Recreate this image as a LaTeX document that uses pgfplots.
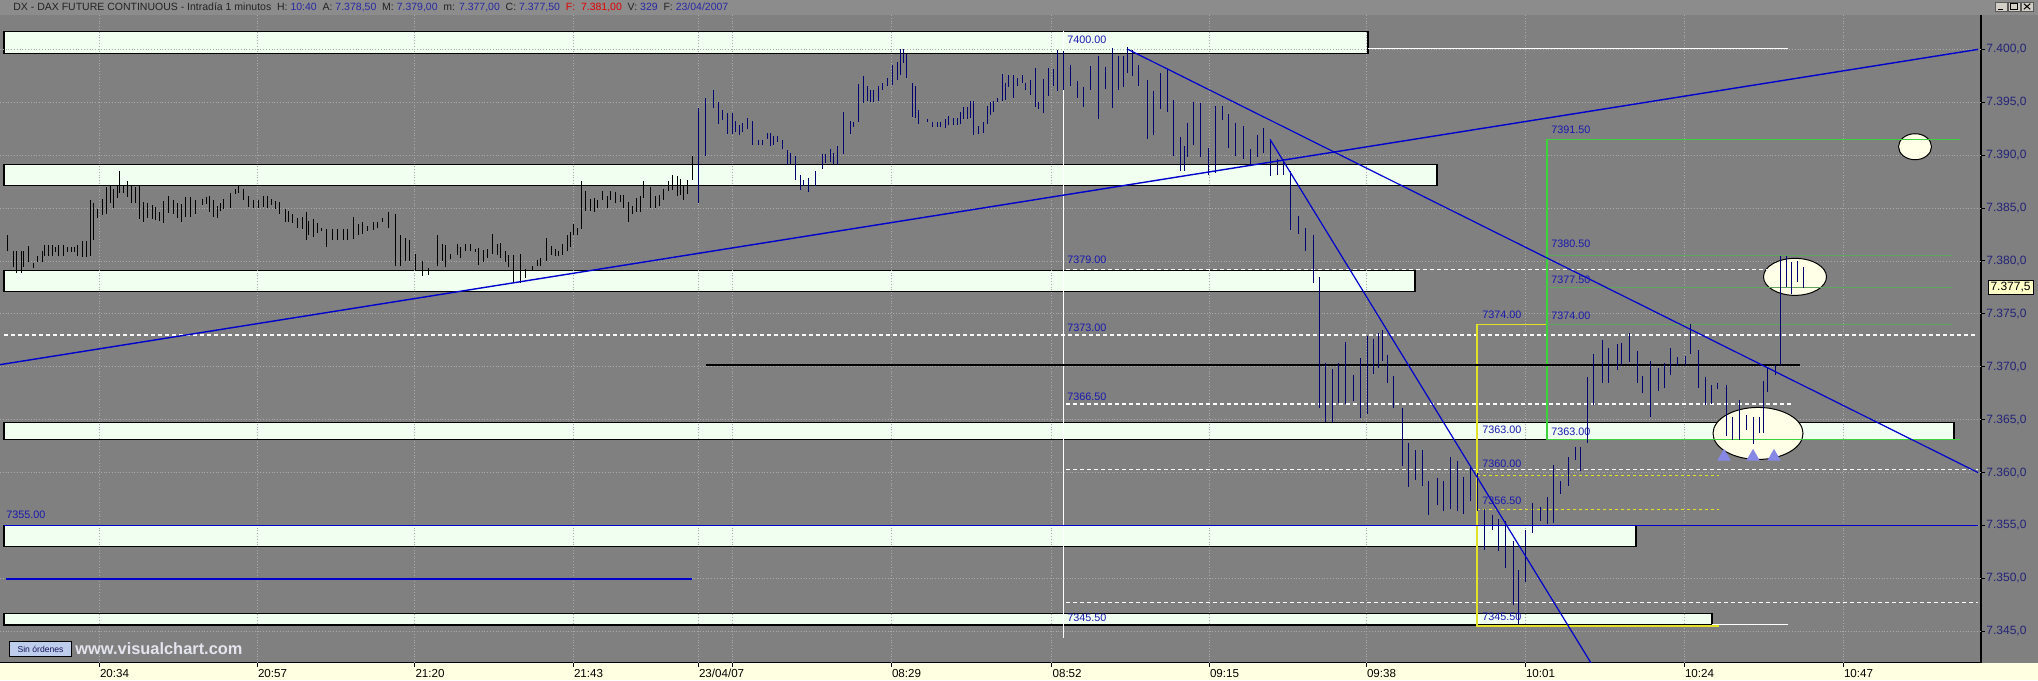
\documentclass[border=0pt]{standalone}
\usepackage{pgfplots}
\usepackage{pgfplotstable}
\pgfplotsset{compat=1.18}
\usepackage{fontspec}
\setmainfont{Liberation Sans}
\definecolor{bg}{RGB}{128,128,128}
\definecolor{titlebg}{RGB}{140,140,140}
\definecolor{boxfill}{RGB}{240,255,240}
\definecolor{navybar}{RGB}{0,0,110}
\definecolor{trend}{RGB}{0,0,205}
\definecolor{labblue}{RGB}{25,25,175}
\definecolor{ylab}{RGB}{35,35,120}
\definecolor{yel}{RGB}{225,225,40}
\definecolor{gbright}{RGB}{60,210,60}
\definecolor{gdim}{RGB}{95,165,95}
\definecolor{strip}{RGB}{255,255,225}
\definecolor{arrowc}{RGB}{135,135,230}
\definecolor{cream}{RGB}{255,255,232}
\definecolor{gridc}{RGB}{170,170,170}
\definecolor{ttxt}{RGB}{35,35,35}
\definecolor{tval}{RGB}{40,40,165}
\definecolor{tred}{RGB}{225,0,0}

\pgfplotstableread{
x h l
7 7382.5 7381.0
13 7381.0 7379.5
16 7381.0 7379.0
21 7381.0 7379.0
23 7381.0 7379.5
28 7381.5 7380.0
33 7380.0 7379.5
37 7380.5 7380.0
42 7381.0 7380.0
44 7381.5 7380.5
48 7381.5 7380.5
52 7381.5 7380.5
55 7381.5 7381.0
58 7381.5 7380.5
63 7381.5 7380.5
67 7381.5 7381.0
71 7381.5 7381.0
74 7381.5 7381.0
77 7381.5 7380.5
82 7382.0 7380.5
86 7382.0 7380.5
90 7385.8 7380.5
93 7385.5 7382.0
97 7385.0 7384.2
102 7386.0 7384.5
106 7387.0 7384.5
110 7387.2 7385.5
113 7386.9 7385.1
117 7387.3 7386.1
119 7388.6 7386.5
123 7387.2 7386.5
127 7387.6 7386.1
131 7387.3 7385.6
135 7387.0 7385.5
139 7387.2 7384.0
143 7385.6 7383.7
147 7385.6 7384.2
152 7385.3 7384.0
155 7385.1 7383.9
159 7384.7 7383.9
163 7385.8 7383.7
168 7386.1 7384.5
173 7385.8 7384.5
177 7385.6 7384.2
181 7385.4 7383.7
185 7386.1 7384.2
190 7386.1 7384.2
195 7385.8 7384.5
202 7385.9 7385.3
206 7386.1 7385.4
209 7386.2 7384.7
213 7385.8 7384.2
217 7385.3 7384.2
220 7385.6 7384.8
223 7385.9 7385.0
230 7386.5 7385.1
235 7387.0 7386.5
238 7387.2 7386.5
243 7386.9 7385.8
248 7386.1 7385.1
253 7385.8 7385.1
258 7385.8 7385.1
263 7386.1 7385.1
267 7386.2 7385.1
271 7385.9 7385.3
275 7385.8 7385.0
279 7385.6 7384.5
285 7385.0 7383.7
288 7384.7 7383.7
292 7384.5 7383.7
297 7384.2 7383.2
302 7384.2 7383.1
306 7384.7 7382.1
308 7383.9 7382.6
313 7384.0 7382.3
317 7383.7 7382.8
321 7383.2 7382.9
326 7383.1 7381.4
332 7383.1 7382.1
337 7383.1 7382.1
343 7383.2 7382.1
347 7383.1 7382.1
353 7384.2 7382.1
358 7383.6 7382.6
362 7383.7 7382.6
367 7383.4 7382.9
373 7383.7 7382.9
377 7383.7 7383.2
382 7384.2 7383.8
388 7384.7 7383.2
395 7384.5 7379.6
400 7382.5 7379.6
405 7382.3 7380.1
409 7382.1 7380.1
415 7380.7 7379.2
422 7380.1 7378.7
428 7379.3 7378.7
437 7382.6 7379.6
442 7381.7 7380.1
445 7381.7 7379.6
450 7380.7 7380.2
457 7381.7 7380.7
460 7381.5 7380.4
465 7381.7 7381.0
470 7381.7 7381.0
475 7381.2 7380.9
478 7381.2 7379.6
483 7381.2 7380.1
487 7381.2 7380.4
492 7382.6 7380.7
497 7381.7 7380.7
500 7381.7 7380.3
505 7381.0 7380.0
508 7380.7 7379.5
513 7380.6 7378.0
520 7380.7 7378.0
525 7379.3 7378.5
532 7379.6 7379.2
537 7380.1 7379.6
540 7380.3 7379.6
546 7382.3 7380.1
551 7381.5 7380.6
555 7381.2 7380.6
558 7381.0 7380.6
562 7381.7 7380.6
567 7382.6 7381.0
570 7382.8 7381.4
573 7383.6 7382.6
577 7383.2 7382.6
581 7387.7 7383.1
585 7386.7 7384.8
590 7385.9 7384.7
594 7386.1 7384.7
597 7385.8 7385.1
602 7386.7 7385.8
607 7386.2 7385.1
610 7386.6 7385.8
615 7386.7 7385.6
620 7386.2 7385.6
623 7386.2 7385.0
628 7385.6 7383.7
632 7385.3 7384.5
636 7386.1 7384.7
640 7386.2 7384.7
643 7387.7 7386.1
650 7387.0 7385.1
655 7386.2 7385.1
659 7386.4 7385.3
663 7387.0 7385.9
668 7387.7 7386.7
672 7388.1 7386.7
677 7388.1 7386.2
680 7387.7 7386.2
683 7387.2 7385.8
687 7387.7 7386.4
692 7390.0 7387.7
}\dayone

\pgfplotstableread{
x h l
698 7394.6 7385.6
705 7395.5 7390.0
713 7396.3 7394.6
718 7395.1 7393.0
722 7394.3 7393.3
727 7394.1 7392.1
732 7394.1 7392.1
735 7393.3 7392.2
739 7393.0 7392.1
742 7393.0 7392.2
747 7393.6 7392.5
752 7393.3 7391.1
758 7391.6 7391.1
762 7391.6 7391.1
767 7392.1 7391.6
770 7392.2 7391.0
773 7391.9 7391.1
777 7391.9 7391.3
782 7391.6 7390.8
787 7390.6 7389.2
790 7390.2 7389.2
795 7390.0 7387.7
800 7388.1 7386.7
803 7387.8 7387.2
808 7388.0 7386.7
815 7388.6 7387.2
822 7390.2 7388.8
825 7390.2 7389.4
830 7390.6 7389.4
833 7390.2 7389.2
837 7391.0 7389.2
843 7394.1 7390.2
850 7393.3 7392.1
853 7393.2 7392.7
858 7396.8 7393.2
863 7397.6 7395.1
867 7396.5 7395.1
870 7396.2 7395.1
873 7396.3 7395.1
878 7396.6 7395.2
882 7397.0 7396.3
887 7397.3 7396.5
892 7398.7 7396.8
897 7399.0 7397.3
900 7400.1 7397.6
903 7400.1 7398.8
906 7399.6 7397.3
912 7396.8 7393.6
915 7396.6 7393.6
918 7394.3 7393.0
927 7393.6 7393.3
932 7393.2 7392.7
937 7393.2 7392.7
940 7393.2 7392.7
945 7393.6 7392.7
948 7393.8 7392.9
953 7393.6 7392.9
957 7393.6 7392.9
960 7394.1 7393.0
963 7394.6 7393.5
967 7394.7 7393.5
970 7395.2 7393.6
973 7395.1 7391.9
978 7392.9 7392.1
983 7393.2 7392.1
987 7394.7 7393.0
990 7395.1 7393.9
993 7395.2 7394.1
997 7395.5 7395.1
1002 7397.7 7395.1
1005 7396.8 7395.2
1008 7397.7 7396.6
1013 7397.6 7395.5
1017 7397.3 7396.5
1022 7397.7 7396.9
1025 7396.9 7396.2
1030 7397.1 7395.7
1035 7398.2 7394.6
1038 7395.1 7394.4
1043 7397.3 7394.1
1048 7398.2 7395.5
1053 7398.2 7396.6
1057 7400.1 7396.2
1063 7400.0 7396.4
1070 7398.5 7396.5
1077 7397.1 7395.5
1083 7396.4 7394.6
1090 7398.5 7396.2
1098 7399.4 7393.5
1105 7398.5 7396.4
1112 7400.2 7394.6
1118 7399.4 7396.2
1123 7399.4 7396.5
1127 7400.2 7397.8
1132 7400.0 7397.6
1138 7398.5 7396.5
1147 7397.1 7391.5
1153 7396.2 7392.0
1160 7397.8 7394.4
1167 7398.2 7394.2
1173 7395.3 7390.0
1180 7391.8 7388.6
1184 7391.0 7388.6
1187 7393.1 7389.9
1193 7395.1 7391.1
1200 7395.1 7390.0
1208 7390.8 7388.2
1215 7394.7 7388.4
1222 7394.6 7393.3
1228 7394.0 7390.8
1235 7393.1 7390.0
1243 7392.8 7389.7
1250 7390.6 7389.1
1257 7392.0 7389.9
1263 7392.6 7390.2
1270 7391.7 7388.2
1277 7389.7 7388.2
1283 7389.7 7388.2
1290 7388.6 7383.0
1298 7384.3 7382.6
1305 7383.2 7381.0
1313 7382.6 7378.1
1319 7378.6 7366.2
1325 7370.5 7364.9
1332 7369.8 7364.7
1338 7370.5 7366.7
1345 7372.3 7366.5
1353 7369.4 7366.9
1360 7370.9 7365.3
1367 7373.0 7365.6
1373 7372.8 7369.5
1378 7373.3 7370.0
1382 7373.5 7370.6
1387 7371.3 7368.6
1393 7369.2 7366.2
1402 7366.2 7360.7
1408 7362.9 7358.7
1415 7362.1 7359.3
1422 7362.1 7358.7
1428 7359.3 7356.1
1437 7359.6 7357.1
1443 7359.3 7356.5
1450 7361.5 7356.6
1457 7361.2 7356.5
1463 7359.6 7356.1
1470 7360.7 7357.4
1477 7360.1 7356.5
1484 7356.6 7352.7
1492 7356.1 7354.7
1498 7355.8 7352.7
1505 7355.5 7351.1
1513 7353.6 7347.6
1518 7350.8 7345.6
1525 7354.6 7349.7
1532 7357.1 7354.3
1540 7356.8 7355.5
1547 7357.7 7355.2
1553 7360.7 7355.2
1560 7359.3 7358.0
1568 7361.5 7358.7
1575 7362.5 7361.2
1580 7362.5 7360.2
1587 7369.1 7362.8
1593 7371.3 7366.5
1602 7372.5 7368.4
1608 7371.9 7368.6
1617 7372.2 7369.7
1621 7372.4 7370.3
1629 7373.2 7370.5
1637 7371.6 7368.6
1642 7369.2 7367.6
1650 7370.6 7365.4
1658 7370.0 7367.8
1664 7370.5 7368.1
1670 7371.7 7369.2
1677 7371.0 7370.2
1685 7371.1 7370.3
1690 7374.1 7371.3
1698 7371.7 7368.1
1705 7369.1 7366.5
1711 7368.3 7366.5
1717 7368.6 7368.0
1726 7368.3 7363.5
1732 7365.4 7363.2
1739 7366.9 7363.1
1746 7365.4 7364.0
1753 7365.4 7362.8
1759 7365.3 7363.7
1763 7368.7 7363.7
1767 7370.0 7367.6
1775 7370.2 7369.2
1780 7380.5 7370.2
1786 7380.5 7377.5
1791 7380.0 7377.0
1797 7380.0 7378.0
1803 7379.5 7377.5
}\daytwo

\begin{document}
\begin{tikzpicture}
% strips
\fill[titlebg] (0,323.85pt) rectangle (1019pt,331.35pt);
\fill[bg] (990.5pt,0) rectangle (1019pt,323.85pt);
\fill[strip] (0,-8.65pt) rectangle (1019pt,0);
\begin{axis}[
  at={(0,0)}, anchor=south west,
  scale only axis, width=990.5pt, height=323.85pt,
  xmin=0, xmax=1981, ymin=7342.03, ymax=7403.25,
  axis background/.style={fill=bg},
  axis x line*=bottom, axis y line*=right,
  axis line style={-, black, line width=0.6pt},
  xtick={99,257,414.5,573,698,732,891,1051.6,1209,1366,1525,1684,1843},
  xticklabels={20:34,20:57,21:20,21:43,23/04/07,{},08:29,08:52,09:15,09:38,10:01,10:24,10:47},
  ytick={7345,7350,7355,7360,7365,7370,7375,7380,7385,7390,7395,7400},
  yticklabels={{7.345,0},{7.350,0},{7.355,0},{7.360,0},{7.365,0},{7.370,0},{7.375,0},{7.380,0},{7.385,0},{7.390,0},{7.395,0},{7.400,0}},
  tick align=outside, major tick length=2pt,
  tick style={black, line width=0.5pt},
  xticklabel style={font=\fontsize{5.8}{6}\selectfont, text=black, anchor=north west, inner sep=0pt, yshift=-1.2pt, xshift=0.3pt},
  yticklabel style={font=\fontsize{6}{6}\selectfont, text=ylab, anchor=west, inner sep=0pt, xshift=0.5pt},
]
% boxes
\addplot[fill=boxfill, draw=black, line width=0.6pt, forget plot] coordinates {(4,7399.6) (1368,7399.6) (1368,7401.7) (4,7401.7)} -- cycle;
\addplot[fill=boxfill, draw=black, line width=0.6pt, forget plot] coordinates {(4,7387.1) (1437,7387.1) (1437,7389.1) (4,7389.1)} -- cycle;
\addplot[fill=boxfill, draw=black, line width=0.6pt, forget plot] coordinates {(4,7377.1) (1415,7377.1) (1415,7379.1) (4,7379.1)} -- cycle;
\addplot[fill=boxfill, draw=black, line width=0.6pt, forget plot] coordinates {(4,7363.1) (1954,7363.1) (1954,7364.7) (4,7364.7)} -- cycle;
\addplot[fill=boxfill, draw=black, line width=0.6pt, forget plot] coordinates {(4,7353.0) (1636,7353.0) (1636,7355.0) (4,7355.0)} -- cycle;
\addplot[fill=boxfill, draw=black, line width=0.6pt, forget plot] coordinates {(4,7345.6) (1712,7345.6) (1712,7346.7) (4,7346.7)} -- cycle;
% grid (drawn over the boxes, under everything else)
\pgfplotsinvokeforeach{99,257,414.5,573,698,732,891,1051.6,1209,1366,1525,1684,1843}{
  \draw[densely dotted, gridc, line width=0.4pt] (axis cs:#1,7342.03) -- (axis cs:#1,7403.25);
}
\pgfplotsinvokeforeach{7345,7350,7360,7365,7370,7375,7380,7385,7390,7395,7400}{
  \draw[densely dotted, gridc, line width=0.4pt] (axis cs:0,#1) -- (axis cs:1981,#1);
}
% ellipses
\draw[fill=cream, draw=black, line width=0.5pt] (axis cs:1915,7390.8) ellipse [x radius=8.25pt, y radius=6.5pt];
\draw[fill=cream, draw=black, line width=0.5pt] (axis cs:1795,7378.5) ellipse [x radius=15.75pt, y radius=9.25pt];
\draw[fill=cream, draw=black, line width=0.5pt] (axis cs:1758,7363.7) ellipse [x radius=22.5pt, y radius=13pt];
% white lines
\addplot[white, line width=0.7pt, dash pattern=on 2pt off 1.5pt, forget plot] coordinates {(1066,7379.2) (1794,7379.2)};
\addplot[white, line width=0.7pt, dash pattern=on 2pt off 1.5pt, forget plot] coordinates {(4,7373.0) (1978,7373.0)};
\addplot[white, line width=0.7pt, dash pattern=on 2pt off 1.5pt, forget plot] coordinates {(1066,7366.5) (1794,7366.5)};
\addplot[white, line width=0.7pt, dash pattern=on 2pt off 1.5pt, forget plot] coordinates {(1066,7360.3) (1978,7360.3)};
\addplot[white, line width=0.7pt, dash pattern=on 2pt off 1.5pt, forget plot] coordinates {(1066,7347.7) (1978,7347.7)};
\addplot[white, line width=0.5pt, forget plot] coordinates {(1368,7400.1) (1788,7400.1)};
\addplot[white, line width=0.5pt, forget plot] coordinates {(1712,7345.6) (1788,7345.6)};
\addplot[white, line width=0.5pt, forget plot] coordinates {(1063,7401.7) (1063,7344.4)};
% yellow
\addplot[yel, line width=0.6pt, forget plot] coordinates {(1719,7374) (1477,7374) (1477,7345.5) (1719,7345.5)};
\addplot[yel, line width=0.5pt, dash pattern=on 1.5pt off 1.5pt, forget plot] coordinates {(1477,7359.7) (1719,7359.7)};
\addplot[yel, line width=0.5pt, dash pattern=on 1.5pt off 1.5pt, forget plot] coordinates {(1477,7356.5) (1719,7356.5)};
% green
\addplot[gbright, line width=0.6pt, forget plot] coordinates {(1960,7391.5) (1547,7391.5) (1547,7363.1) (1960,7363.1)};
\addplot[gdim, line width=0.6pt, forget plot] coordinates {(1547,7380.5) (1952,7380.5)};
\addplot[gdim, line width=0.6pt, forget plot] coordinates {(1547,7377.5) (1952,7377.5)};
\addplot[gdim, line width=0.6pt, forget plot] coordinates {(1547,7374.0) (1952,7374.0)};
% black level
\addplot[black, line width=1pt, forget plot] coordinates {(706,7370.2) (1800,7370.2)};
% bars
\addplot[draw=none, mark=none, forget plot, error bars/.cd, y dir=both, y explicit, error mark=none, error bar style={draw=black, solid, line width=0.5pt}]
  table[x=x, y expr={(\thisrow{h}+\thisrow{l})/2}, y error expr={(\thisrow{h}-\thisrow{l})/2}] {\dayone};
\addplot[draw=none, mark=none, forget plot, error bars/.cd, y dir=both, y explicit, error mark=none, error bar style={draw=navybar, solid, line width=0.5pt}]
  table[x=x, y expr={(\thisrow{h}+\thisrow{l})/2}, y error expr={(\thisrow{h}-\thisrow{l})/2}] {\daytwo};
% trend lines
\addplot[trend, line width=0.7pt, forget plot] coordinates {(0,7370.2) (1978,7400.0)};
\addplot[trend, line width=0.6pt, forget plot] coordinates {(1128,7400.0) (1978,7360.0)};
\addplot[trend, line width=0.6pt, forget plot] coordinates {(1270,7391.5) (1591,7342.0)};
\addplot[trend, line width=0.7pt, forget plot] coordinates {(4,7355.0) (1978,7355.0)};
\addplot[trend, line width=1pt, forget plot] coordinates {(6,7349.9) (692,7349.9)};
% arrows
\addplot[only marks, mark=triangle*, mark size=3.5pt, color=arrowc, forget plot] coordinates {(1724,7361.5) (1753,7361.5) (1774,7361.5)};
% labels
\begin{scope}[every node/.style={font=\fontsize{5.4}{6}\selectfont, text=labblue, inner sep=0pt, anchor=west}]
\node at (axis cs:1067,7400.9) {7400.00};
\node at (axis cs:1067,7380.1) {7379.00};
\node at (axis cs:1067,7373.7) {7373.00};
\node at (axis cs:1067,7367.2) {7366.50};
\node at (axis cs:1067,7346.3) {7345.50};
\node at (axis cs:6,7356.0) {7355.00};
\node at (axis cs:1482,7374.9) {7374.00};
\node at (axis cs:1482,7364.0) {7363.00};
\node at (axis cs:1482,7360.8) {7360.00};
\node at (axis cs:1482,7357.3) {7356.50};
\node at (axis cs:1482,7346.4) {7345.50};
\node at (axis cs:1551,7392.4) {7391.50};
\node at (axis cs:1551,7381.6) {7380.50};
\node at (axis cs:1551,7378.2) {7377.50};
\node at (axis cs:1551,7374.8) {7374.00};
\node at (axis cs:1551,7363.9) {7363.00};
\end{scope}
\end{axis}
% title
\node[anchor=west, inner sep=0pt, font=\fontsize{5.25}{5.5}\selectfont] at (6.5pt,327.6pt)
 {\textcolor{ttxt}{DX - DAX FUTURE CONTINUOUS - Intradía 1 minutos\ \ H: }\textcolor{tval}{10:40}\textcolor{ttxt}{\ \ A: }\textcolor{tval}{7.378,50}\textcolor{ttxt}{\ \ M: }\textcolor{tval}{7.379,00}\textcolor{ttxt}{\ \ m: }\textcolor{tval}{7.377,00}\textcolor{ttxt}{\ \ C: }\textcolor{tval}{7.377,50}\textcolor{tred}{\ \ F:\ \ 7.381,00}\textcolor{ttxt}{\ \ V: }\textcolor{tval}{329}\textcolor{ttxt}{\ \ F: }\textcolor{tval}{23/04/2007}};
% window buttons
\foreach \bx in {997.5,1004,1010.5} {
  \draw[fill={rgb,255:red,212;green,208;blue,200}, draw={rgb,255:red,90;green,90;blue,90}, line width=0.3pt] (\bx pt,325.9pt) rectangle ++(6pt,4.4pt);
}
\draw[black, line width=0.5pt] (998.8pt,326.8pt) -- (1001.6pt,326.8pt);
\draw[black, line width=0.4pt] (1005.3pt,326.7pt) rectangle (1008.7pt,329.4pt);
\draw[black, line width=0.5pt] (1011.9pt,326.7pt) -- (1015.1pt,329.5pt) (1011.9pt,329.5pt) -- (1015.1pt,326.7pt);
% bottom-left button and watermark
\draw[fill={rgb,255:red,190;green,205;blue,235}, draw=black, line width=0.4pt] (4.8pt,3.35pt) rectangle (35.7pt,10.5pt);
\node[font=\fontsize{4.3}{5}\selectfont, text={rgb,255:red,20;green,20;blue,90}, inner sep=0pt] at (20.25pt,6.9pt) {Sin órdenes};
\node[anchor=west, font=\bfseries\fontsize{8.2}{8.5}\selectfont, text={rgb,255:red,228;green,228;blue,238}, inner sep=0pt] at (37.5pt,6.9pt) {www.visualchart.com};
% current price box
\draw[fill={rgb,255:red,255;green,255;blue,200}, draw=black, line width=0.4pt] (994pt,184pt) rectangle (1016.5pt,191.2pt);
\node[font=\fontsize{6}{6}\selectfont, text=black, inner sep=0pt] at (1005.25pt,187.6pt) {7.377,5};
\pgfresetboundingbox
\path[use as bounding box] (0,-8.65pt) rectangle (1019pt,331.35pt);
\end{tikzpicture}
\end{document}
